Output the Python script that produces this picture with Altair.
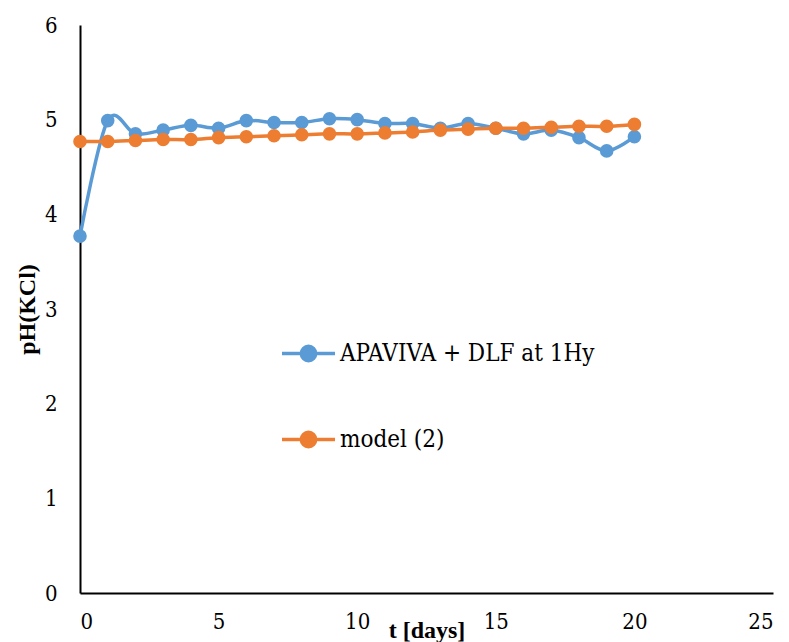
import altair as alt
import pandas as pd

days = list(range(0, 21))
apaviva = [3.77, 4.99, 4.85, 4.89, 4.94, 4.91, 4.99, 4.97, 4.97, 5.01, 5.00,
           4.96, 4.96, 4.91, 4.96, 4.91, 4.85, 4.89, 4.81, 4.67, 4.82]
model = [4.77, 4.77, 4.78, 4.79, 4.79, 4.81, 4.82, 4.83, 4.84, 4.85, 4.85,
         4.86, 4.87, 4.89, 4.90, 4.91, 4.91, 4.92, 4.93, 4.93, 4.95]
series_names = ["APAVIVA + DLF at 1Hy", "model (2)"]
series_colors = ["#5B9BD5", "#ED7D31"]

rows = []
for name, vals in zip(series_names, [apaviva, model]):
    for d, v in zip(days, vals):
        rows.append({"t": d, "pH": v, "series": name})
df = pd.DataFrame(rows)

FONT = "Liberation Serif"
LFONT = "DejaVu Serif Condensed, DejaVu Serif"
sym_path = "M-1,0H1M-0.27,0A0.27,0.27,0,1,0,0.27,0A0.27,0.27,0,1,0,-0.27,0Z"

color = alt.Color(
    "series:N",
    scale=alt.Scale(domain=series_names, range=series_colors),
    sort=series_names,
    legend=alt.Legend(
        title=None, orient="none", legendX=200, legendY=300,
        symbolType=sym_path, symbolSize=2809, symbolStrokeWidth=3.5,
        labelFont=LFONT, labelFontSize=24, labelColor="black", labelLimit=0,
        labelOffset=3, rowPadding=43, padding=0, direction="vertical",
    ),
)

x = alt.X("t:Q", scale=alt.Scale(domain=[0, 25], nice=False),
          axis=alt.Axis(values=[0, 5, 10, 15, 20, 25], title="t [days]",
                        titleY=44, titleBaseline="alphabetic"))
y = alt.Y("pH:Q", scale=alt.Scale(domain=[0, 6], nice=False),
          axis=alt.Axis(values=[0, 1, 2, 3, 4, 5, 6], title="pH(KCl)",
                        titleX=-53, titleY=284, titleAngle=270,
                        titleAlign="center", titleBaseline="middle",
                        labelPadding=23))

layers = []
for name in series_names:
    base = alt.Chart(df).transform_filter(alt.datum.series == name)
    layers.append(base.mark_line(strokeWidth=3.5, interpolate="cardinal").encode(x=x, y=y, color=color))
    layers.append(base.mark_point(filled=True, size=185, opacity=1).encode(x=x, y=y, color=color))

chart = alt.layer(*layers).properties(
    width=693, height=568,
    autosize=alt.AutoSizeParams(type="none"),
    padding={"left": 80, "top": 25, "right": 16, "bottom": 49},
    background="white",
).configure_view(stroke=None).configure_axis(
    grid=False, ticks=False, tickSize=0,
    domainColor="black", domainWidth=2,
    labelFont=LFONT, labelFontSize=22, labelColor="black",
    titleFont=FONT, titleFontSize=24, titleFontWeight="bold", titleColor="black",
).configure_axisX(labelPadding=18)

chart.save("out.html", embed_options={"renderer": "svg", "actions": False})
